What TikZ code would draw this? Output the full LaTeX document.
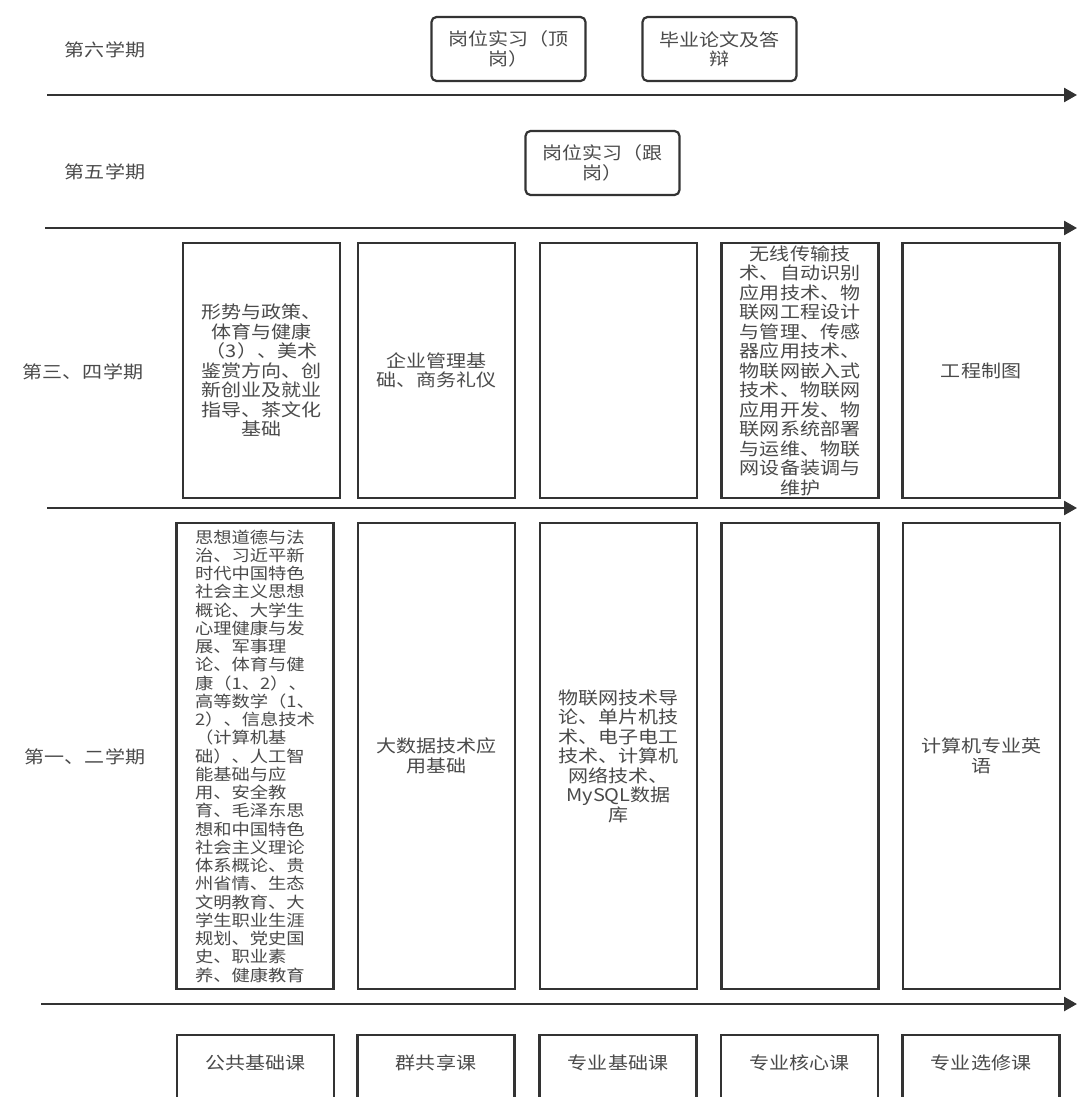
\documentclass[tikz,border=0pt]{standalone}
\usepackage{fontspec}
\setmainfont[FakeStretch=1.15]{Noto Sans CJK SC}
\usetikzlibrary{arrows.meta}
\definecolor{linec}{HTML}{333333}
\definecolor{textc}{HTML}{4A4A4A}
\newcommand\myfs{\fontsize{17.4pt}{19.5pt}\selectfont}
\newcommand\myfsA{\fontsize{15.9pt}{18.25pt}\selectfont}
\tikzset{
  box/.style={draw=linec, line width=2.2pt, rectangle, inner sep=0pt, align=center, font=\myfs, text=textc},
  colbox/.style={box, minimum width=157pt},
  rbox/.style={box, rounded corners=5pt, minimum width=154pt, minimum height=64pt},
  lbl/.style={inner sep=0pt, font=\myfs, text=textc},
  arr/.style={draw=linec, line width=2.6pt, -{Triangle[length=13pt,width=14pt]}},
}
\begin{document}
\begin{tikzpicture}[x=1pt,y=-1pt]
\useasboundingbox (0,0) rectangle (1077,1097);
\clip (0,0) rectangle (1077,1097);
\fill[white] (0,0) rectangle (1077,1097);

% semester labels
\node[lbl] (s6) at (105,50) {第六学期};
\node[lbl] (s5) at (105,172) {第五学期};
\node[lbl] (s34) at (83,372) {第三、四学期};
\node[lbl] (s12) at (85,757) {第一、二学期};

% top boxes
\node[rbox] (dg) at (508.5,49) {\raisebox{-3pt}{\shortstack{岗位实习（顶\\岗）}}};
\node[rbox] (by) at (719.5,49) {\raisebox{-3pt}{\shortstack{毕业论文及答\\辩}}};
\node[rbox] (gg) at (602.5,163) {\raisebox{-3pt}{\shortstack{岗位实习（跟\\岗）}}};

% arrows
\coordinate (a1s) at (47,95);  \coordinate (a1e) at (1077,95);
\coordinate (a2s) at (45,228); \coordinate (a2e) at (1077,228);
\coordinate (a3s) at (47,508); \coordinate (a3e) at (1077,508);
\coordinate (a4s) at (41,1004); \coordinate (a4e) at (1077,1004);
\draw[arr] (a1s) -- (a1e);
\draw[arr] (a2s) -- (a2e);
\draw[arr] (a3s) -- (a3e);
\draw[arr] (a4s) -- (a4e);

% row: semesters 3-4
\node[colbox, minimum height=255pt] (r3a) at (261.5,370.5) {形势与政策、\\体育与健康\\（3）、美术\\鉴赏方向、创\\新创业及就业\\指导、茶文化\\基础};
\node[colbox, minimum height=255pt] (r3b) at (436.5,370.5) {企业管理基\\础、商务礼仪};
\node[colbox, minimum height=255pt] (r3c) at (618.5,370.5) {};
\node[colbox, minimum height=255pt] (r3d) at (800,370.5) {无线传输技\\术、自动识别\\应用技术、物\\联网工程设计\\与管理、传感\\器应用技术、\\物联网嵌入式\\技术、物联网\\应用开发、物\\联网系统部署\\与运维、物联\\网设备装调与\\维护};
\node[colbox, minimum height=255pt] (r3e) at (981,370.5) {工程制图};

% row: semesters 1-2
\node[colbox, minimum height=466pt, align=left, font=\myfsA] (r1a) at (255,756) {思想道德与法\\治、习近平新\\时代中国特色\\社会主义思想\\概论、大学生\\心理健康与发\\展、军事理\\论、体育与健\\康（1、2）、\\高等数学（1、\\2）、信息技术\\（计算机基\\础）、人工智\\能基础与应\\用、安全教\\育、毛泽东思\\想和中国特色\\社会主义理论\\体系概论、贵\\州省情、生态\\文明教育、大\\学生职业生涯\\规划、党史国\\史、职业素\\养、健康教育};
\node[colbox, minimum height=466pt] (r1b) at (436.5,756) {大数据技术应\\用基础};
\node[colbox, minimum height=466pt] (r1c) at (618.5,756) {物联网技术导\\论、单片机技\\术、电子电工\\技术、计算机\\网络技术、\\MySQL数据\\库};
\node[colbox, minimum height=466pt] (r1d) at (800,756) {};
\node[colbox, minimum height=466pt] (r1e) at (981.5,756) {计算机专业英\\语};

% category boxes (cut off at the bottom)
\node[colbox, minimum height=66pt] (c1) at (255.5,1068) {\raisebox{12pt}{公共基础课}};
\node[colbox, minimum height=66pt] (c2) at (436,1068) {\raisebox{12pt}{群共享课}};
\node[colbox, minimum height=66pt] (c3) at (618,1068) {\raisebox{12pt}{专业基础课}};
\node[colbox, minimum height=66pt] (c4) at (799.5,1068) {\raisebox{12pt}{专业核心课}};
\node[colbox, minimum height=66pt] (c5) at (981,1068) {\raisebox{12pt}{专业选修课}};
\end{tikzpicture}
\end{document}
